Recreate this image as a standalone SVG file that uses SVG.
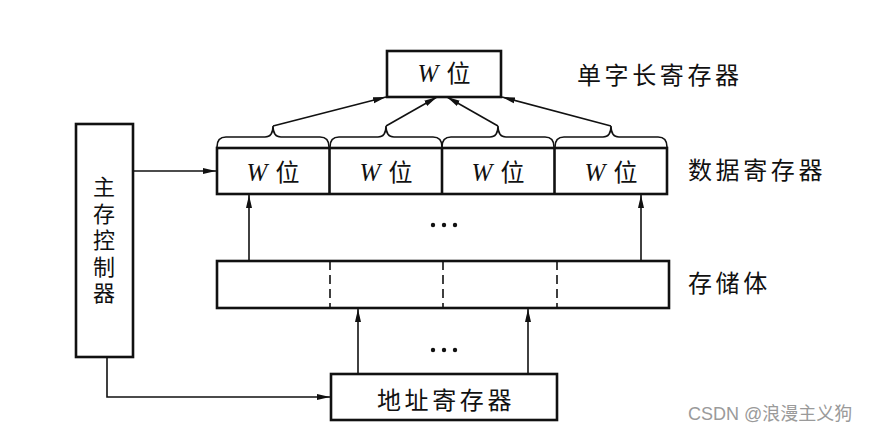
<svg xmlns="http://www.w3.org/2000/svg" width="871" height="436" viewBox="0 0 871 436">
<style>
.box{fill:#fff;stroke:#111;stroke-width:2.6}
.ln{fill:none;stroke:#111;stroke-width:1.6}
.cjk{font-family:"Noto Sans CJK SC","Noto Sans",sans-serif;font-size:24px;fill:#111}
.vert{font-family:"Noto Sans CJK SC","Noto Sans",sans-serif;font-size:22px;fill:#111;writing-mode:vertical-rl;text-orientation:upright;letter-spacing:4.4px}
.lbl{font-family:"Noto Sans CJK SC","Noto Sans",sans-serif;font-size:24px;fill:#111;letter-spacing:3.6px}
.w{font-family:"Liberation Serif",serif;font-style:italic;font-size:25px}
.dot{fill:#111}
</style>
<defs>
<marker id="ah" markerUnits="userSpaceOnUse" markerWidth="14" markerHeight="8" refX="13" refY="4" orient="auto">
<path d="M0,1 L13,4 L0,7 Z" fill="#111"/>
</marker>
</defs>

<g id="single-word-register">
<rect class="box" x="387" y="51" width="114" height="46"/>
<text class="cjk" x="444" y="82" text-anchor="middle"><tspan class="w">W</tspan><tspan dx="8">位</tspan></text>
<text class="lbl" x="577" y="84">单字长寄存器</text>
</g>

<g id="data-register">
<rect class="box" x="217" y="148" width="450" height="46"/>
<line class="box" x1="329.5" y1="148" x2="329.5" y2="194"/>
<line class="box" x1="442" y1="148" x2="442" y2="194"/>
<line class="box" x1="554.5" y1="148" x2="554.5" y2="194"/>
<text class="cjk" x="273" y="181" text-anchor="middle"><tspan class="w">W</tspan><tspan dx="8">位</tspan></text>
<text class="cjk" x="386" y="181" text-anchor="middle"><tspan class="w">W</tspan><tspan dx="8">位</tspan></text>
<text class="cjk" x="498" y="181" text-anchor="middle"><tspan class="w">W</tspan><tspan dx="8">位</tspan></text>
<text class="cjk" x="611" y="181" text-anchor="middle"><tspan class="w">W</tspan><tspan dx="8">位</tspan></text>
<text class="lbl" x="688" y="179">数据寄存器</text>
</g>

<g id="braces">
<path class="ln" d="M217,147 Q217,137 226,137 L265,137 Q273,137 273,126 Q273,137 281,137 L320,137 Q329,137 329,147"/>
<path class="ln" d="M330,147 Q330,137 339,137 L378,137 Q386,137 386,126 Q386,137 394,137 L433,137 Q442,137 442,147"/>
<path class="ln" d="M442,147 Q442,137 451,137 L490,137 Q498,137 498,126 Q498,137 506,137 L545,137 Q554,137 554,147"/>
<path class="ln" d="M555,147 Q555,137 564,137 L603,137 Q611,137 611,126 Q611,137 619,137 L658,137 Q667,137 667,147"/>
</g>

<g id="storage">
<rect class="box" x="217" y="261" width="452" height="47"/>
<line class="ln" x1="330" y1="261" x2="330" y2="308" stroke-dasharray="9,5" stroke-width="2"/>
<line class="ln" x1="443" y1="261" x2="443" y2="308" stroke-dasharray="9,5" stroke-width="2"/>
<line class="ln" x1="557" y1="261" x2="557" y2="308" stroke-dasharray="9,5" stroke-width="2"/>
<text class="lbl" x="688" y="292">存储体</text>
</g>

<g id="address-register">
<rect class="box" x="331" y="374" width="226" height="46"/>
<text class="lbl" x="377" y="409">地址寄存器</text>
</g>

<g id="main-memory-controller">
<rect class="box" x="76" y="124" width="57" height="233"/>
<text class="vert" x="104" y="176">主存控制器</text>
</g>

<g id="ellipses">
<circle class="dot" cx="433" cy="225" r="2.2"/><circle class="dot" cx="444" cy="225" r="2.2"/><circle class="dot" cx="455" cy="225" r="2.2"/>
<circle class="dot" cx="433" cy="350" r="2.2"/><circle class="dot" cx="444" cy="350" r="2.2"/><circle class="dot" cx="455" cy="350" r="2.2"/>
</g>

<g id="connectors">
<line class="ln" x1="273" y1="126" x2="386" y2="97" marker-end="url(#ah)"/>
<line class="ln" x1="386" y1="126" x2="437" y2="97" marker-end="url(#ah)"/>
<line class="ln" x1="498" y1="126" x2="447" y2="97" marker-end="url(#ah)"/>
<line class="ln" x1="611" y1="126" x2="502" y2="97" marker-end="url(#ah)"/>
<line class="ln" x1="249" y1="261" x2="249" y2="195" marker-end="url(#ah)"/>
<line class="ln" x1="641" y1="261" x2="641" y2="195" marker-end="url(#ah)"/>
<line class="ln" x1="358" y1="374" x2="358" y2="309" marker-end="url(#ah)"/>
<line class="ln" x1="528" y1="374" x2="528" y2="309" marker-end="url(#ah)"/>
<line class="ln" x1="133" y1="171" x2="216" y2="171" marker-end="url(#ah)"/>
<path class="ln" d="M107,357 L107,397 L330,397" marker-end="url(#ah)"/>
</g>

<text x="688" y="420" font-family="'Liberation Sans','Noto Sans CJK SC',sans-serif" font-size="18" fill="#9a9a9a">CSDN @浪漫主义狗</text>
</svg>
